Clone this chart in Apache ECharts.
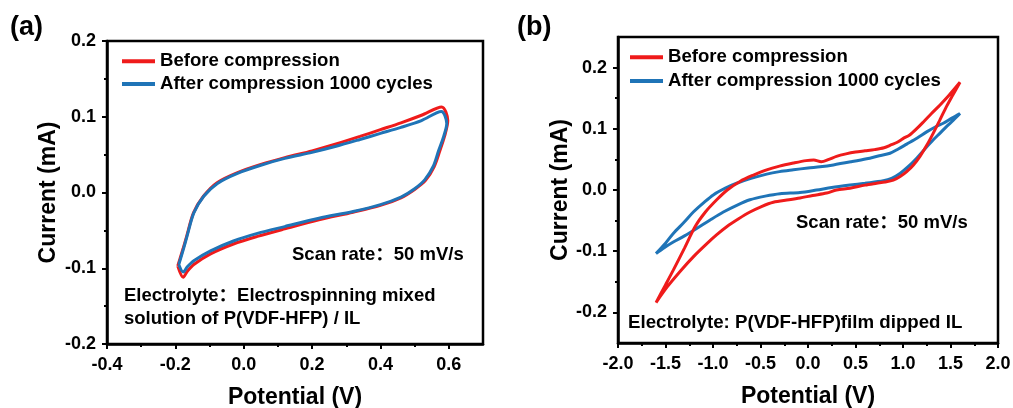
<!DOCTYPE html>
<html>
<head>
<meta charset="utf-8">
<title>Cyclic voltammetry before and after compression</title>
<script src="https://cdn.jsdelivr.net/npm/echarts@6/dist/echarts.min.js"></script>
<style>
  html, body { margin: 0; padding: 0; background: #fff; }
  #chart { width: 1013px; height: 408px; }
</style>
</head>
<body>
<div id="chart"></div>
<script>
// ---- Panel (a): electrospun P(VDF-HFP)/IL electrolyte, scan from -0.2 V to 0.6 V ----
const potA_before = [-0.193, -0.178, -0.167, -0.147, -0.118, -0.078, -0.02, 0.05, 0.12, 0.2, 0.27, 0.34, 0.40, 0.46, 0.52, 0.579,
  0.597, 0.588, 0.573, 0.557, 0.532, 0.50, 0.46, 0.40, 0.32, 0.22, 0.12, 0.04, -0.03, -0.097, -0.146, -0.165, -0.177, -0.193];
const curA_before = [-0.097, -0.075, -0.058, -0.027, -0.005, 0.013, 0.026, 0.037, 0.046, 0.055, 0.064, 0.074, 0.083, 0.092, 0.102, 0.113,
  0.095, 0.075, 0.054, 0.034, 0.016, 0.004, -0.007, -0.017, -0.026, -0.036, -0.048, -0.058, -0.068, -0.081, -0.095, -0.104, -0.112, -0.097];

const potA_after = [-0.19, -0.176, -0.166, -0.146, -0.117, -0.077, -0.02, 0.05, 0.12, 0.2, 0.27, 0.34, 0.40, 0.46, 0.52, 0.578,
  0.594, 0.585, 0.57, 0.555, 0.53, 0.50, 0.46, 0.40, 0.32, 0.22, 0.12, 0.04, -0.03, -0.097, -0.146, -0.165, -0.177, -0.19];
const curA_after = [-0.095, -0.074, -0.058, -0.027, -0.005, 0.012, 0.025, 0.036, 0.045, 0.053, 0.061, 0.070, 0.078, 0.086, 0.095, 0.107,
  0.091, 0.074, 0.055, 0.035, 0.017, 0.005, -0.006, -0.016, -0.025, -0.034, -0.045, -0.054, -0.064, -0.077, -0.090, -0.098, -0.105, -0.095];

// ---- Panel (b): P(VDF-HFP) film dipped in IL, scan from -1.6 V to 1.6 V ----
const potB_before = [-1.6, -1.5, -1.418, -1.3, -1.189, -1.08, -0.961, -0.85, -0.716, -0.58, -0.435, -0.3, -0.154, -0.02, 0.06, 0.14,
  0.22, 0.3, 0.4, 0.5, 0.6, 0.7, 0.8, 0.88, 0.94, 1.0, 1.07, 1.15, 1.22, 1.3, 1.39, 1.48, 1.6,
  1.52, 1.46, 1.39, 1.319, 1.25, 1.179, 1.11, 1.039, 0.97, 0.898, 0.81, 0.723, 0.6, 0.442, 0.3, 0.196, 0.05, -0.084, -0.2,
  -0.365, -0.49, -0.611, -0.73, -0.856, -0.96, -1.067, -1.2, -1.347, -1.48, -1.6];
const curB_before = [-0.184, -0.155, -0.131, -0.095, -0.060, -0.036, -0.016, 0.0, 0.014, 0.024, 0.033, 0.039, 0.044, 0.048, 0.049, 0.046,
  0.050, 0.055, 0.059, 0.062, 0.064, 0.066, 0.069, 0.074, 0.078, 0.084, 0.090, 0.101, 0.112, 0.125, 0.139, 0.154, 0.176,
  0.154, 0.137, 0.115, 0.093, 0.073, 0.055, 0.041, 0.030, 0.022, 0.016, 0.013, 0.011, 0.008, 0.003, 0.0, -0.005, -0.009, -0.013, -0.016,
  -0.020, -0.027, -0.036, -0.047, -0.060, -0.073, -0.088, -0.108, -0.133, -0.158, -0.184];

const potB_after = [-1.6, -1.5, -1.418, -1.3, -1.207, -1.1, -0.997, -0.87, -0.751, -0.6, -0.435, -0.3, -0.154, 0.0, 0.126, 0.267,
  0.45, 0.618, 0.75, 0.863, 0.95, 1.039, 1.15, 1.249, 1.34, 1.424, 1.51, 1.6,
  1.53, 1.46, 1.39, 1.319, 1.23, 1.144, 1.06, 0.968, 0.88, 0.793, 0.6, 0.442, 0.25, 0.091, -0.084, -0.295, -0.45, -0.611,
  -0.75, -0.891, -1.03, -1.172, -1.3, -1.418, -1.51, -1.6];
const curB_after = [-0.104, -0.087, -0.071, -0.052, -0.036, -0.021, -0.008, 0.003, 0.011, 0.019, 0.026, 0.030, 0.033, 0.036, 0.038, 0.041,
  0.046, 0.051, 0.056, 0.060, 0.067, 0.075, 0.085, 0.095, 0.103, 0.109, 0.117, 0.125,
  0.114, 0.104, 0.093, 0.082, 0.067, 0.052, 0.039, 0.027, 0.019, 0.015, 0.011, 0.008, 0.004, 0.0, -0.004, -0.006, -0.010, -0.016,
  -0.025, -0.036, -0.049, -0.063, -0.075, -0.085, -0.094, -0.104];

// ---- Axis ticks ----
const ticksA_x = [-0.4, -0.2, 0.0, 0.2, 0.4, 0.6];
const minorA_x = [-0.3, -0.1, 0.1, 0.3, 0.5];
const ticksA_y = [-0.2, -0.1, 0.0, 0.1, 0.2];
const minorA_y = [-0.15, -0.05, 0.05, 0.15];
const ticksB_x = [-2.0, -1.5, -1.0, -0.5, 0.0, 0.5, 1.0, 1.5, 2.0];
const minorB_x = [-1.75, -1.25, -0.75, -0.25, 0.25, 0.75, 1.25, 1.75];
const ticksB_y = [-0.2, -0.1, 0.0, 0.1, 0.2];
const minorB_y = [-0.15, -0.05, 0.05, 0.15];

const seriesNames = ['Before compression', 'After compression 1000 cycles'];
const RED = '#ef1b1b';
const BLUE = '#1f74b7';
const FONT = "'Liberation Sans', Arial, 'Noto Sans CJK SC', sans-serif";

const pairs = (xs, ys) => xs.map((x, i) => [x, ys[i]]);
const fmt = v => v.toFixed(1);

function majorAxis(dim, grid, min, max, ticks, extra) {
  return Object.assign({
    type: 'value', gridIndex: grid, min: min, max: max,
    position: dim === 'x' ? 'bottom' : 'left',
    axisLine: { show: true, onZero: false, lineStyle: { color: '#000', width: 2.5 } },
    axisTick: { show: true, customValues: ticks, length: 5, lineStyle: { color: '#000', width: 2 } },
    axisLabel: { customValues: ticks, formatter: fmt, color: '#000', fontSize: 18, fontWeight: 'bold',
      fontFamily: FONT, margin: dim === 'x' ? 12 : 11 },
    splitLine: { show: false },
    nameTextStyle: { color: '#000', fontSize: 23, fontWeight: 'bold', fontFamily: FONT },
    nameLocation: 'middle'
  }, extra || {});
}
function minorAxis(dim, grid, min, max, ticks) {
  return {
    type: 'value', gridIndex: grid, min: min, max: max,
    position: dim === 'x' ? 'bottom' : 'left',
    axisLine: { show: false, onZero: false },
    axisTick: { show: true, customValues: ticks, length: 3, lineStyle: { color: '#000', width: 2 } },
    axisLabel: { show: false },
    splitLine: { show: false }
  };
}

function textEl(str, x, y, size, align) {
  return {
    type: 'text', x: x, y: y, silent: true,
    style: { text: str, fill: '#000', font: 'bold ' + size + 'px ' + FONT,
      align: align || 'left', verticalAlign: 'middle' }
  };
}

const legendText = { color: '#000', fontSize: 18.6, fontWeight: 'bold', fontFamily: FONT };

const chart = echarts.init(document.getElementById('chart'), null, { renderer: 'canvas' });

chart.setOption({
  animation: false,
  backgroundColor: '#fff',
  grid: [
    { left: 107, right: 530, top: 41, bottom: 64, outerBoundsMode: 'none', containLabel: false,
      show: true, borderColor: '#000', borderWidth: 2.5, backgroundColor: 'transparent' },
    { left: 618, right: 15, top: 37, bottom: 65, outerBoundsMode: 'none', containLabel: false,
      show: true, borderColor: '#000', borderWidth: 2.5, backgroundColor: 'transparent' }
  ],
  xAxis: [
    majorAxis('x', 0, -0.4, 0.7, ticksA_x, { name: 'Potential (V)', nameGap: 42 }),
    minorAxis('x', 0, -0.4, 0.7, minorA_x),
    majorAxis('x', 1, -2, 2, ticksB_x, { name: 'Potential (V)', nameGap: 42 }),
    minorAxis('x', 1, -2, 2, minorB_x)
  ],
  yAxis: [
    majorAxis('y', 0, -0.2, 0.2, ticksA_y, { name: 'Current (mA)', nameGap: 47 }),
    minorAxis('y', 0, -0.2, 0.2, minorA_y),
    majorAxis('y', 1, -0.25, 0.25, ticksB_y, { name: 'Current (mA)', nameGap: 46 }),
    minorAxis('y', 1, -0.25, 0.25, minorB_y)
  ],
  legend: [
    { data: seriesNames, orient: 'vertical', left: 122, top: 52, itemWidth: 33, itemHeight: 4, itemGap: 4,
      icon: 'rect', padding: 0, selectedMode: false, textStyle: legendText },
    { data: seriesNames, orient: 'vertical', left: 630, top: 48, itemWidth: 33, itemHeight: 4, itemGap: 5,
      icon: 'rect', padding: 0, selectedMode: false, textStyle: legendText }
  ],
  series: [
    { name: seriesNames[0], type: 'line', xAxisIndex: 0, yAxisIndex: 0, data: pairs(potA_before, curA_before),
      showSymbol: false, symbol: 'none', smooth: 0.3, color: RED, lineStyle: { color: RED, width: 3 }, z: 2 },
    { name: seriesNames[1], type: 'line', xAxisIndex: 0, yAxisIndex: 0, data: pairs(potA_after, curA_after),
      showSymbol: false, symbol: 'none', smooth: 0.3, color: BLUE, lineStyle: { color: BLUE, width: 3 }, z: 3 },
    { name: seriesNames[1], type: 'line', xAxisIndex: 2, yAxisIndex: 2, data: pairs(potB_after, curB_after),
      showSymbol: false, symbol: 'none', smooth: 0.3, color: BLUE, lineStyle: { color: BLUE, width: 3 }, z: 2 },
    { name: seriesNames[0], type: 'line', xAxisIndex: 2, yAxisIndex: 2, data: pairs(potB_before, curB_before),
      showSymbol: false, symbol: 'none', smooth: 0.3, color: RED, lineStyle: { color: RED, width: 3 }, z: 3 }
  ],
  graphic: [
    textEl('(a)', 10, 28, 27),
    textEl('(b)', 517, 28, 27),
    textEl('Scan rate\uFF1A50 mV/s', 292, 255, 18.5),
    textEl('Electrolyte\uFF1AElectrospinning mixed', 124, 296, 18.5),
    textEl('solution of P(VDF-HFP) / IL', 124, 319, 18.5),
    textEl('Scan rate\uFF1A50 mV/s', 796, 223, 18.5),
    textEl('Electrolyte: P(VDF-HFP)film dipped IL', 628, 323, 18.7)
  ]
});
</script>
</body>
</html>
